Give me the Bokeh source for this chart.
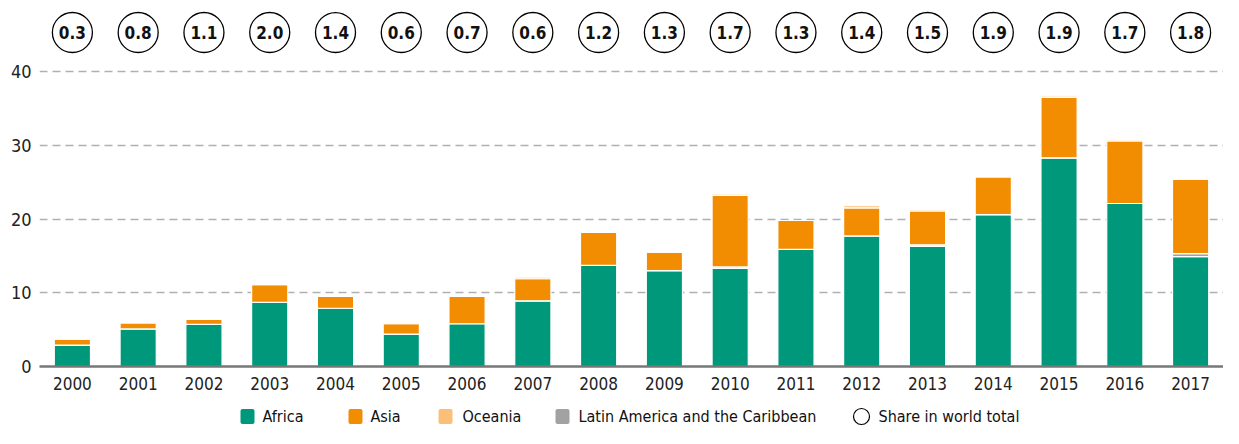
from bokeh.plotting import figure
from bokeh.layouts import column
from bokeh.models import ColumnDataSource, FixedTicker, Range1d
from bokeh.core.properties import value
from bokeh.embed import file_html
from bokeh.resources import INLINE

years = [str(y) for y in range(2000, 2018)]
africa = [2.9, 5.1, 5.7, 8.7, 7.9, 4.4, 5.8, 8.9, 13.7, 13.0, 13.3, 15.9, 17.7, 16.3, 20.6, 28.3, 22.1, 14.9]
latam = [0, 0, 0, 0, 0, 0, 0, 0, 0, 0, 0.2, 0, 0, 0.2, 0, 0, 0, 0.4]
asia = [0.8, 0.8, 0.7, 2.4, 1.6, 1.4, 3.7, 3.0, 4.5, 2.5, 9.7, 3.9, 3.8, 4.6, 5.1, 8.2, 8.5, 10.1]
oceania = [0, 0, 0.1, 0, 0, 0, 0, 0.2, 0, 0, 0.2, 0, 0.3, 0.2, 0, 0.2, 0.2, 0]
share = [0.3, 0.8, 1.1, 2.0, 1.4, 0.6, 0.7, 0.6, 1.2, 1.3, 1.7, 1.3, 1.4, 1.5, 1.9, 1.9, 1.7, 1.8]
share_labels = [f"{v:.1f}" for v in share]
legend_labels = ["Africa", "Asia", "Oceania", "Latin America and the Caribbean",
                 "Share in world total"]

FONT = "Liberation Sans Narrow, DejaVu Sans Condensed, Roboto"
C_AFRICA = "#00987a"
C_ASIA = "#f28c00"
C_OCEANIA = "#fcbf78"
C_LATAM = "#a2a2a2"

W = 1223
BL = 39
source = ColumnDataSource(dict(years=years, africa=africa, latam=latam,
                               asia=asia, oceania=oceania))

p = figure(x_range=years, y_range=(0, 49.63), width=W, height=404,
           output_backend="svg", toolbar_location=None,
           min_border_left=BL, min_border_right=0, min_border_top=0,
           min_border_bottom=38)
p.outline_line_color = None
p.x_range.range_padding = 0

stack_keys = ["africa", "latam", "asia", "oceania"]
colors = [C_AFRICA, C_LATAM, C_ASIA, C_OCEANIA]
rs = p.vbar_stack(stack_keys, x="years", width=0.55, color=colors,
                  line_color="white", line_width=1.2, source=source)

# share circles
circ_src = ColumnDataSource(dict(years=years, y=[45.29] * len(years), lab=share_labels))
p.scatter(x="years", y="y", size=40, marker="circle", fill_color="white",
          line_color="black", line_width=1.3, source=circ_src)
p.text(x="years", y="y", text="lab", source=circ_src, text_align="center",
       text_baseline="middle", text_font=value(FONT), text_font_style="bold",
       text_font_size="17px", text_color="#111111")

# axes
p.yaxis.ticker = FixedTicker(ticks=[0, 10, 20, 30, 40])
p.yaxis.axis_line_color = None
p.yaxis.major_tick_line_color = None
p.yaxis.minor_tick_line_color = None
p.yaxis.major_label_text_font = FONT
p.yaxis.major_label_text_font_size = "18px"
p.yaxis.major_label_text_color = "#222222"
p.yaxis.major_label_standoff = 2

p.xaxis.axis_line_color = "#777777"
p.xaxis.axis_line_width = 2.5
p.xaxis.major_tick_line_color = None
p.xaxis.minor_tick_line_color = None
p.xaxis.major_label_text_font = FONT
p.xaxis.major_label_text_font_size = "17px"
p.xaxis.major_label_text_color = "#222222"
p.xaxis.major_label_standoff = 4

p.xgrid.grid_line_color = None
p.ygrid.grid_line_color = "#b0b0b0"
p.ygrid.grid_line_width = 1.3
p.ygrid.grid_line_dash = "8 5"

# legend strip, laid out in figure pixel units (frame aligned with chart)
LH = 24
lf = figure(width=W, height=LH, output_backend="svg", toolbar_location=None,
            x_range=Range1d(BL, W), y_range=Range1d(0, LH),
            min_border_left=BL, min_border_right=0, min_border_top=0,
            min_border_bottom=0)
lf.axis.visible = False
lf.grid.visible = False
lf.outline_line_color = None

swatch_left = [240, 348, 438, 555]      # layout positions (px)
text_left = [262, 370, 462, 578, 878]
circle_cx = 861
mid = 12
sw = 14
sh = 15

lf.quad(left=swatch_left, right=[x + sw for x in swatch_left],
        bottom=[mid - sh / 2] * 4, top=[mid + sh / 2] * 4,
        fill_color=[C_AFRICA, C_ASIA, C_OCEANIA, C_LATAM],
        line_color=None, border_radius=2)
lf.scatter(x=[circle_cx], y=[mid], size=16, marker="circle",
           fill_color="white", line_color="black", line_width=1.2)
lf.text(x=text_left, y=[mid] * 5, text=legend_labels, text_baseline="middle",
        text_align="left", text_font=value(FONT), text_font_size="16px",
        text_color="#111111")

layout = column(p, lf, spacing=0)
open("out.html", "w").write(file_html(layout, INLINE))
